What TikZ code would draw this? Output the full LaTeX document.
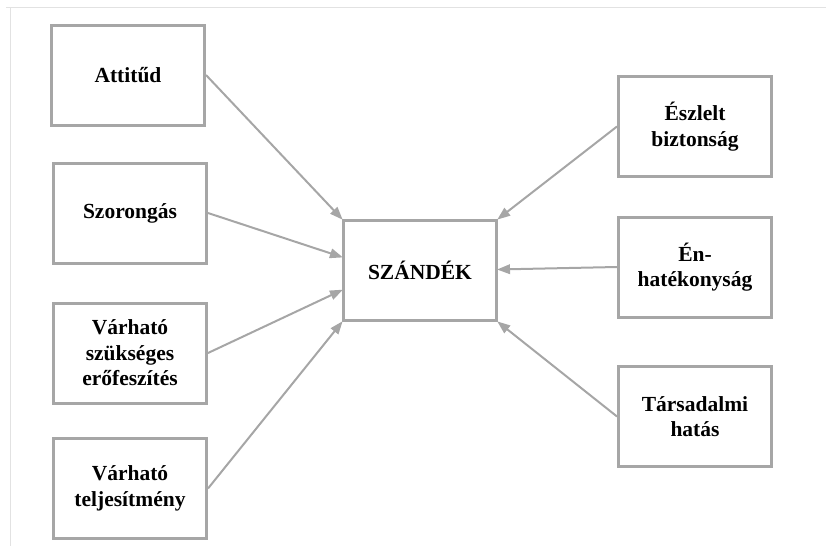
\documentclass[tikz,border=0pt]{standalone}
\usepackage{fontspec}
\setmainfont{Liberation Serif}
\usetikzlibrary{arrows.meta,calc}
\definecolor{boxgray}{HTML}{A6A6A6}
\definecolor{framegray}{HTML}{E2E2E2}
\begin{document}
\begin{tikzpicture}[x=1pt,y=-1pt,
  factor/.style={draw=boxgray,line width=3pt,fill=white,minimum width=153pt,minimum height=100pt,
    align=center,inner sep=2pt,font=\fontsize{21.5}{25.5}\selectfont\bfseries},
  link/.style={draw=boxgray,line width=2pt,-{Triangle[length=13pt,width=9.5pt]},shorten >=-1pt}]
\useasboundingbox (0,0) rectangle (826,546);
\draw[framegray,line width=1pt] (6,7) -- (826,7);
\draw[framegray,line width=1pt] (10,7) -- (10,546);
% left factors
\node[factor] (att) at (128,75) {Attitűd};
\node[factor] (szo) at (130,213) {Szorongás};
\node[factor] (erf) at (130,353) {Várható\\szükséges\\erőfeszítés};
\node[factor] (tel) at (130,488.5) {Várható\\teljesítmény};
% centre
\node[factor] (sz) at (420,270.5) {SZÁNDÉK};
% right factors
\node[factor] (esz) at (695,126.5) {Észlelt\\biztonság};
\node[factor] (enh) at (695,267) {Én-\\hatékonyság};
\node[factor] (tar) at (695,416.5) {Társadalmi\\hatás};
% target points on the centre box
\coordinate (l2) at ($(sz.north west)!0.37!(sz.south west)$);
\coordinate (l3) at ($(sz.north west)!0.69!(sz.south west)$);
\coordinate (r2) at ($(sz.north east)!0.49!(sz.south east)$);
% connectors
\draw[link] (att.east) -- (sz.north west);
\draw[link] (szo.east) -- (l2);
\draw[link] (erf.east) -- (l3);
\draw[link] (tel.east) -- (sz.south west);
\draw[link] (esz.west) -- (sz.north east);
\draw[link] (enh.west) -- (r2);
\draw[link] (tar.west) -- (sz.south east);
\end{tikzpicture}
\end{document}
